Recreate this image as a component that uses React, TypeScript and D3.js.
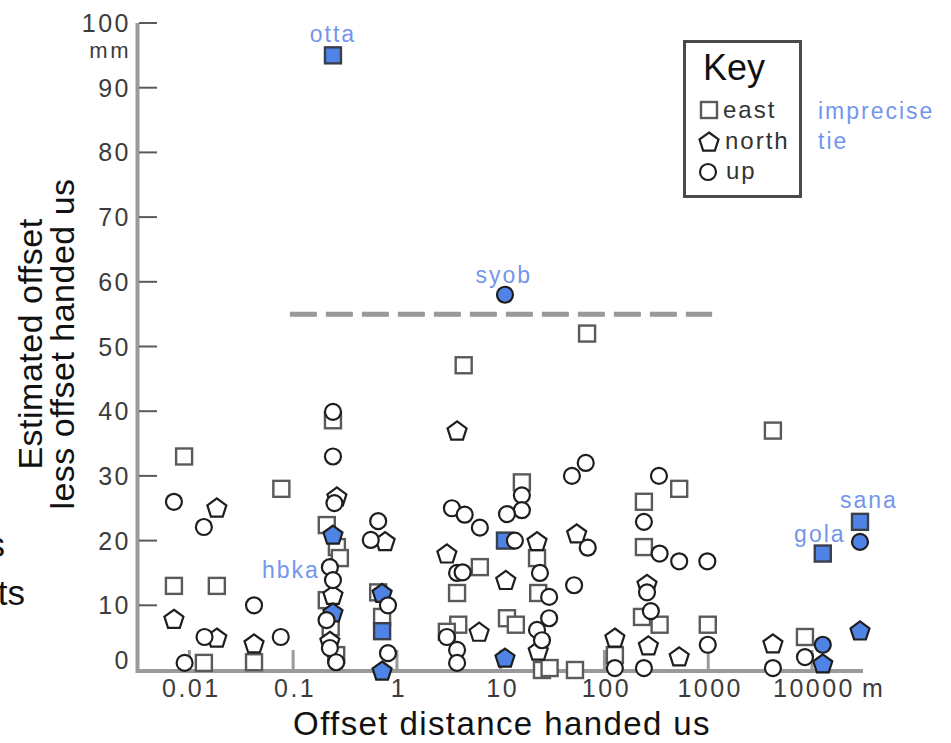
import React from "react";
import * as d3 from "d3";

// tick values
const xTicks = [0.01, 0.1, 1, 10, 100, 1000, 10000];
const xTickLabels = ["0.01", "0.1", "1", "10", "100", "1000", "10000"];
const yTicks = [0, 10, 20, 30, 40, 50, 60, 70, 80, 90, 100];

// offset distance handed us (m) vs estimated offset less offset handed us (mm)
const east = [
  { x: 0.0089, y: 33 }, { x: 0.0071, y: 13 }, { x: 0.0184, y: 13 }, { x: 0.0138, y: 1.1 },
  { x: 0.042, y: 1.2 }, { x: 0.077, y: 28 }, { x: 0.242, y: 38.6 }, { x: 0.211, y: 22.4 },
  { x: 0.264, y: 19 }, { x: 0.282, y: 17.3 }, { x: 0.211, y: 10.8 }, { x: 0.23, y: 6.6 },
  { x: 0.26, y: 2.3 }, { x: 0.66, y: 12 }, { x: 0.72, y: 8.2 }, { x: 4.4, y: 47.1 },
  { x: 6.3, y: 15.9 }, { x: 3.8, y: 11.9 }, { x: 3.9, y: 7 }, { x: 3.03, y: 5.9 },
  { x: 16, y: 29 }, { x: 11.5, y: 8 }, { x: 14, y: 7 }, { x: 22.4, y: 17.3 },
  { x: 23, y: 11.9 }, { x: 25, y: 0 }, { x: 29.6, y: 0.3 }, { x: 52, y: 0 },
  { x: 68, y: 52 }, { x: 126, y: 2.3 }, { x: 240, y: 26 }, { x: 240, y: 19 },
  { x: 525, y: 28 }, { x: 340, y: 7 }, { x: 230, y: 8.2 }, { x: 990, y: 7 },
  { x: 4200, y: 37 }, { x: 8550, y: 5.1 },
  { x: 0.72, y: 6, hi: true }, { x: 11, y: 20, hi: true }, { x: 12700, y: 18, hi: true },
  { x: 29000, y: 22.9, hi: true }, { x: 0.242, y: 95, hi: true },
];

const north = [
  { x: 0.0184, y: 25.2 }, { x: 0.0071, y: 8 }, { x: 0.0184, y: 5.1 }, { x: 0.042, y: 4.2 },
  { x: 0.264, y: 26.9 }, { x: 0.242, y: 11.7 }, { x: 0.226, y: 4.6 }, { x: 0.77, y: 20 },
  { x: 3.8, y: 37.1 }, { x: 3.03, y: 18.1 }, { x: 6.2, y: 6 }, { x: 22.4, y: 20 },
  { x: 11.2, y: 14 }, { x: 23, y: 3.1 }, { x: 54, y: 21.2 }, { x: 126, y: 5.1 },
  { x: 257, y: 13.4 }, { x: 265, y: 3.9 }, { x: 525, y: 2.2 }, { x: 4200, y: 4.2 },
  { x: 0.242, y: 21, hi: true }, { x: 0.242, y: 9, hi: true }, { x: 0.72, y: 12, hi: true },
  { x: 0.72, y: 0, hi: true }, { x: 11, y: 2, hi: true }, { x: 12700, y: 1.1, hi: true },
  { x: 29000, y: 6.2, hi: true },
];

const up = [
  { x: 0.0071, y: 26 }, { x: 0.0138, y: 22.1 }, { x: 0.042, y: 10 }, { x: 0.014, y: 5.1 },
  { x: 0.076, y: 5.1 }, { x: 0.009, y: 1.1 }, { x: 0.242, y: 39.9 }, { x: 0.242, y: 33 },
  { x: 0.25, y: 25.8 }, { x: 0.226, y: 15.9 }, { x: 0.242, y: 13.9 }, { x: 0.21, y: 7.7 },
  { x: 0.226, y: 3.4 }, { x: 0.26, y: 1.2 }, { x: 0.66, y: 23 }, { x: 0.56, y: 20.1 },
  { x: 0.82, y: 10 }, { x: 0.82, y: 2.6 }, { x: 3.39, y: 25 }, { x: 4.5, y: 24 },
  { x: 6.3, y: 22 }, { x: 3.8, y: 15 }, { x: 4.3, y: 15.1 }, { x: 3.03, y: 5.1 },
  { x: 3.8, y: 3.1 }, { x: 3.8, y: 1.1 }, { x: 16, y: 27 }, { x: 16, y: 24.7 },
  { x: 11.5, y: 24.1 }, { x: 13.7, y: 20 }, { x: 23.9, y: 15 }, { x: 29.3, y: 11.3 },
  { x: 29.3, y: 8 }, { x: 22.4, y: 6.2 }, { x: 25, y: 4.6 }, { x: 48.6, y: 30 },
  { x: 66, y: 32 }, { x: 69, y: 18.9 }, { x: 51, y: 13.1 }, { x: 126, y: 0.3 },
  { x: 335, y: 30 }, { x: 240, y: 22.9 }, { x: 340, y: 18 }, { x: 525, y: 16.8 },
  { x: 980, y: 16.8 }, { x: 257, y: 12 }, { x: 280, y: 9.1 }, { x: 990, y: 3.9 },
  { x: 240, y: 0.3 }, { x: 4200, y: 0.3 }, { x: 8550, y: 2 },
  { x: 11, y: 58, hi: true }, { x: 12700, y: 3.9, hi: true }, { x: 29000, y: 19.8, hi: true },
];

// station names next to imprecise ties
const tieLabels = [
  { text: "otta", x: 0.242, y: 97.1, anchor: "middle" },
  { text: "syob", x: 10.7, y: 59.8, anchor: "middle" },
  { text: "hbka", x: 0.095, y: 14.2, anchor: "middle" },
  { text: "sana", x: 35400, y: 25, anchor: "middle" },
  { text: "gola", x: 11900, y: 19.8, anchor: "middle" },
];

const dashStart = 0.093;
const dashEnd = 1090;
const dashLevel = 55;

const FONT = "'Liberation Sans', Arial, sans-serif";
const BLUE = "#4f84e6";
const LABEL_BLUE = "#7396ec";

const pentagon = (r: number) => {
  const pts = d3.range(5).map((i) => {
    const a = -Math.PI / 2 + (i * 2 * Math.PI) / 5;
    return [r * Math.cos(a), r * Math.sin(a) + 1.5] as [number, number];
  });
  return d3.line().curve(d3.curveLinearClosed)(pts) as string;
};

function Marker({ kind, cx, cy, hi }: { kind: string; cx: number; cy: number; hi?: boolean }) {
  const fill = hi ? BLUE : "#fff";
  if (kind === "east") {
    return (
      <rect x={cx - 8} y={cy - 8} width={16} height={16} fill={fill}
        stroke={hi ? "#3a3f4c" : "#5a5a5a"} strokeWidth={2.4} />
    );
  }
  if (kind === "north") {
    return (
      <path d={pentagon(10)} transform={`translate(${cx},${cy})`} fill={fill}
        stroke="#1e1e1e" strokeWidth={2.2} />
    );
  }
  return <circle cx={cx} cy={cy} r={8} fill={fill} stroke="#1e1e1e" strokeWidth={2.2} />;
}

export default function App() {
  const x = d3.scaleLog().domain([0.0032, 31000]).range([138, 863]);
  const y = d3.scaleLinear().domain([0, 100]).range([670, 23]);

  const series = [
    { kind: "east", data: east },
    { kind: "north", data: north },
    { kind: "up", data: up },
  ];

  return (
    <svg width={951} height={743} style={{ position: "absolute", left: 0, top: 0, background: "#fff" }}
      fontFamily={FONT}>
      {/* clipped text at the left edge */}
      <text x={5} y={557} fontSize={35} textAnchor="end" fill="#111">s</text>
      <text x={25} y={605} fontSize={35} textAnchor="end" fill="#111">ts</text>

      {/* y axis title */}
      <g transform="translate(42,344) rotate(-90)">
        <text textAnchor="middle" fontSize={34} letterSpacing={0.5} fill="#111">Estimated offset</text>
      </g>
      <g transform="translate(74,344) rotate(-90)">
        <text textAnchor="middle" fontSize={34} letterSpacing={0.5} fill="#111">less offset handed us</text>
      </g>

      {/* x axis title */}
      <text x={502} y={735} textAnchor="middle" fontSize={33} letterSpacing={1.4} fill="#111">
        Offset distance handed us
      </text>

      {/* y axis */}
      <line x1={137.5} x2={137.5} y1={y(100)} y2={y(0) + 3} stroke="#9a9a9a" strokeWidth={4} />
      {yTicks.map((t) => (
        <g key={t}>
          <line x1={139} x2={157} y1={y(t)} y2={y(t)} stroke="#5a5a5a" strokeWidth={2} />
          <text x={131} y={y(t) - (t === 0 ? 10 : 0)} dy="0.36em" textAnchor="end" fontSize={25}
            letterSpacing={2.5} fill="#3c3c3c">{t}</text>
        </g>
      ))}
      <text x={131} y={y(100) + 35} textAnchor="end" fontSize={22} letterSpacing={2.5} fill="#3c3c3c">mm</text>

      {/* x axis */}
      <line x1={136} x2={863} y1={y(0) + 1} y2={y(0) + 1} stroke="#9a9a9a" strokeWidth={4} />
      {xTicks.map((t, i) => (
        <g key={t}>
          <line x1={x(t)} x2={x(t)} y1={y(0)} y2={y(0) - 20} stroke="#9a9a9a" strokeWidth={3} />
          <text x={x(t) + 2} y={697} textAnchor="middle" fontSize={25} letterSpacing={2.5} fill="#3c3c3c">
            {xTickLabels[i]}
          </text>
        </g>
      ))}
      <text x={x(10000) + 50} y={697} fontSize={25} fill="#3c3c3c">m</text>

      {/* 55 mm level */}
      <line x1={x(dashStart)} x2={x(dashEnd)} y1={y(dashLevel)} y2={y(dashLevel)}
        stroke="#999" strokeWidth={5} strokeDasharray="27 9" />

      {/* points */}
      {series.map((s) =>
        s.data.map((d, i) => (
          <Marker key={s.kind + i} kind={s.kind} cx={x(d.x)} cy={y(d.y)} hi={(d as any).hi} />
        ))
      )}

      {/* tie labels */}
      {tieLabels.map((l) => (
        <text key={l.text} x={x(l.x)} y={y(l.y)} textAnchor={l.anchor} fontSize={23}
          letterSpacing={2} fill={LABEL_BLUE}>{l.text}</text>
      ))}
      <text x={818} y={119} fontSize={23} letterSpacing={2} fill={LABEL_BLUE}>imprecise</text>
      <text x={818} y={149} fontSize={23} letterSpacing={2} fill={LABEL_BLUE}>tie</text>

      {/* key */}
      <g>
        <rect x={684.5} y={41.5} width={116} height={155} fill="#fff" stroke="#4a4a4a" strokeWidth={3} />
        <text x={703} y={80} fontSize={36} fill="#111">Key</text>
        <Marker kind="east" cx={709} cy={110} />
        <text x={723} y={118} fontSize={24} letterSpacing={2} fill="#333">east</text>
        <Marker kind="north" cx={709} cy={141} />
        <text x={725} y={149} fontSize={24} letterSpacing={2} fill="#333">north</text>
        <Marker kind="up" cx={708} cy={172} />
        <text x={726} y={179} fontSize={24} letterSpacing={2} fill="#333">up</text>
      </g>
    </svg>
  );
}
